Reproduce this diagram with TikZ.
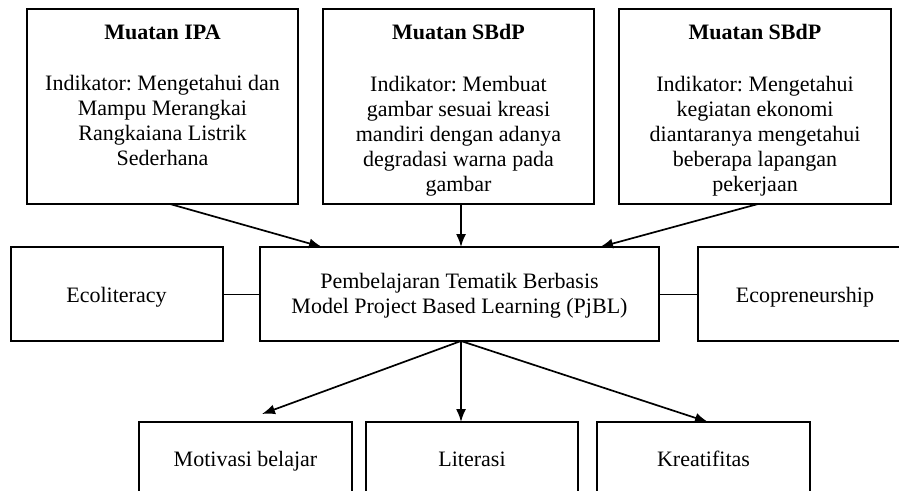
\documentclass[tikz,border=0pt]{standalone}
\usepackage{fontspec}
\setmainfont{Liberation Serif}
\frenchspacing
\usetikzlibrary{arrows.meta}
\tikzset{
  box/.style={draw=black, line width=1.7pt, rectangle, inner sep=0pt},
  txt/.style={align=center, inner sep=0pt, font=\fontsize{22}{25}\selectfont},
  arr/.style={line width=1.7pt, -{Latex[length=13pt,width=10pt]}},
  conn/.style={line width=1pt}
}
\begin{document}
\begin{tikzpicture}[x=1pt,y=-1pt]
\clip (0,0) rectangle (899,490);
\fill[white] (0,0) rectangle (899,490);
% top boxes
\node[box, minimum width=271pt, minimum height=195pt] (b1) at (162.5,106.5) {};
\node[box, minimum width=271pt, minimum height=195pt] (b2) at (458.5,106.5) {};
\node[box, minimum width=272pt, minimum height=195pt] (b3) at (755,106.5) {};
\node[txt, anchor=north] (t1) at (162.5,24.5) {\textbf{Muatan IPA}\\[26.5pt]Indikator: Mengetahui dan\\Mampu Merangkai\\Rangkaiana Listrik\\Sederhana};
\node[txt, anchor=north] (t2) at (458.5,24.5) {\textbf{Muatan SBdP}\\[26.5pt]Indikator: Membuat\\gambar sesuai kreasi\\mandiri dengan adanya\\degradasi warna pada\\gambar};
\node[txt, anchor=north] (t3) at (755,24.5) {\textbf{Muatan SBdP}\\[26.5pt]Indikator: Mengetahui\\kegiatan ekonomi\\diantaranya mengetahui\\beberapa lapangan\\pekerjaan};
% middle row
\node[box, minimum width=212pt, minimum height=94pt] (eco) at (117,294) {};
\node[txt, anchor=base] at (116.5,302) {Ecoliteracy};
\node[box, minimum width=399pt, minimum height=94pt] (pjbl) at (459.5,294) {};
\node[txt] at (459.5,296) {Pembelajaran Tematik Berbasis\\Model Project Based Learning (PjBL)};
\node[box, minimum width=220pt, minimum height=94pt] (epr) at (808,294) {};
\node[txt, anchor=base] at (805,302) {Ecopreneurship};
% bottom row
\node[box, minimum width=213pt, minimum height=100pt] (mot) at (245.5,472) {};
\node[txt, anchor=base] at (245.5,466) {Motivasi belajar};
\node[box, minimum width=212pt, minimum height=100pt] (lit) at (472,472) {};
\node[txt, anchor=base] at (472,466) {Literasi};
\node[box, minimum width=213pt, minimum height=100pt] (kre) at (703.5,472) {};
\node[txt, anchor=base] at (703.5,466) {Kreatifitas};
% connectors
\coordinate (b1s) at (170,204);
\coordinate (b1e) at (322,247);
\coordinate (b2s) at (461,204);
\coordinate (b2e) at (461,247);
\coordinate (b3s) at (758,204);
\coordinate (b3e) at (600,247);
\coordinate (ps) at (461,341);
\coordinate (me) at (262,414);
\coordinate (le) at (461,422);
\coordinate (ke) at (708,422);
\draw[arr] (b1s) -- (b1e);
\draw[arr] (b2s) -- (b2e);
\draw[arr] (b3s) -- (b3e);
\draw[arr] (ps) -- (me);
\draw[arr] (ps) -- (le);
\draw[arr] (ps) -- (ke);
\draw[conn] (eco.east) -- (pjbl.west);
\draw[conn] (pjbl.east) -- (epr.west);
\end{tikzpicture}
\end{document}
